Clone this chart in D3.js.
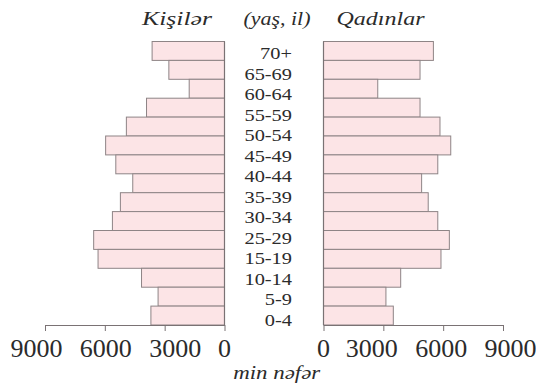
<!DOCTYPE html>
<html>
<head>
<meta charset="utf-8">
<script src="https://cdn.jsdelivr.net/npm/d3@7"></script>
<style>
  html, body { margin: 0; padding: 0; background: #fff; }
  svg { display: block; }
  text { font-family: "Liberation Serif", "Times New Roman", serif; fill: #2b2b2b; }
</style>
</head>
<body>
<svg id="chart" width="536" height="389"></svg>
<script>
// ---- data (thousand persons) ----
const ageGroups = ["70+","65-69","60-64","55-59","50-54","45-49","40-44","35-39","30-34","25-29","20-24","15-19","10-14","5-9","0-4"];
const men   = [3630, 2790, 1770, 3910, 4920, 5960, 5450, 4600, 5220, 5620, 6560, 6340, 4160, 3330, 3690];
const women = [5510, 4840, 2720, 4840, 5840, 6380, 5730, 4920, 5250, 5730, 6310, 5890, 3870, 3130, 3500];
const ageLabels = ["70+","65-69","60-64","55-59","50-54","45-49","40-44","35-39","30-34","25-29","15-19","10-14","5-9","0-4"];
const tickValues = [0, 3000, 6000, 9000];
const titleMen = "Kişilər", titleAge = "(yaş, il)", titleWomen = "Qadınlar", unitLabel = "min nəfər";

const svg = d3.select("#chart");

const y = d3.scaleBand().domain(ageGroups).range([41.5, 325]).padding(0);
const xL = d3.scaleLinear().domain([0, 9000]).range([224.5, 45]);
const xR = d3.scaleLinear().domain([0, 9000]).range([323.5, 503]);
const yLab = d3.scalePoint().domain(ageLabels).range([53, 320]);

const rows = ageGroups.map((g, i) => ({ g, m: men[i], w: women[i] }));

const barFill = "#fce4e6", barStroke = "#8e8486", axisColor = "#7a7274";

svg.append("g").selectAll("rect").data(rows).join("rect")
  .attr("x", d => xL(d.m)).attr("y", d => y(d.g))
  .attr("width", d => xL(0) - xL(d.m)).attr("height", y.bandwidth())
  .attr("fill", barFill).attr("stroke", barStroke).attr("stroke-width", 1);

svg.append("g").selectAll("rect").data(rows).join("rect")
  .attr("x", xR(0)).attr("y", d => y(d.g))
  .attr("width", d => xR(d.w) - xR(0)).attr("height", y.bandwidth())
  .attr("fill", barFill).attr("stroke", barStroke).attr("stroke-width", 1);

// zero lines
[xL(0), xR(0)].forEach(x0 => svg.append("line")
  .attr("x1", x0).attr("x2", x0).attr("y1", y.range()[0]).attr("y2", y.range()[1])
  .attr("stroke", axisColor).attr("stroke-width", 1.2));

// axes (lines + ticks from d3 axis; labels placed separately, spread like the original)
function styleAxis(g) {
  g.select(".domain").attr("stroke", axisColor).attr("stroke-width", 1.2);
  g.selectAll(".tick line").attr("stroke", axisColor);
  g.selectAll(".tick text").remove();
}
const y0 = y.range()[1];
svg.append("g").attr("transform", `translate(0,${y0})`)
  .call(d3.axisBottom(xL).tickValues(tickValues).tickSize(6).tickSizeOuter(0)).call(styleAxis);
svg.append("g").attr("transform", `translate(0,${y0})`)
  .call(d3.axisBottom(xR).tickValues(tickValues).tickSize(6).tickSizeOuter(0)).call(styleAxis);

// tick label positions: zero at the axis origin, others evenly spread outward
const labL = d3.scaleLinear().domain([3000, 9000]).range([xL(3000) + 10.5, xL(9000) - 8.5]);
const labR = d3.scaleLinear().domain([3000, 9000]).range([xR(3000) - 11.5, xR(9000) + 7.5]);
[[xL, labL], [xR, labR]].forEach(([sc, lab]) => {
  svg.append("g").selectAll("text").data(tickValues).join("text")
    .attr("x", d => d === 0 ? sc(0) : lab(d)).attr("y", 357)
    .attr("text-anchor", "middle").attr("font-size", 26)
    .text(d3.format("d"));
});

// age labels (slightly wide serif)
ageLabels.forEach(l => svg.append("g").attr("transform", `translate(292,${yLab(l) + 6}) scale(1.2,1)`)
  .append("text").attr("text-anchor", "end").attr("font-size", 17).text(l));

// headers and unit label
function italicText(cx, yy, str, len) {
  svg.append("text").attr("x", cx - len / 2).attr("y", yy)
    .attr("font-size", 19).attr("font-style", "italic").attr("fill", "#333")
    .attr("textLength", len).attr("lengthAdjust", "spacingAndGlyphs")
    .text(str);
}
italicText(177, 25, titleMen, 70);
italicText(277, 25, titleAge, 67);
italicText(380.5, 25, titleWomen, 88);
italicText(276.7, 379, unitLabel, 87);
</script>
</body>
</html>
